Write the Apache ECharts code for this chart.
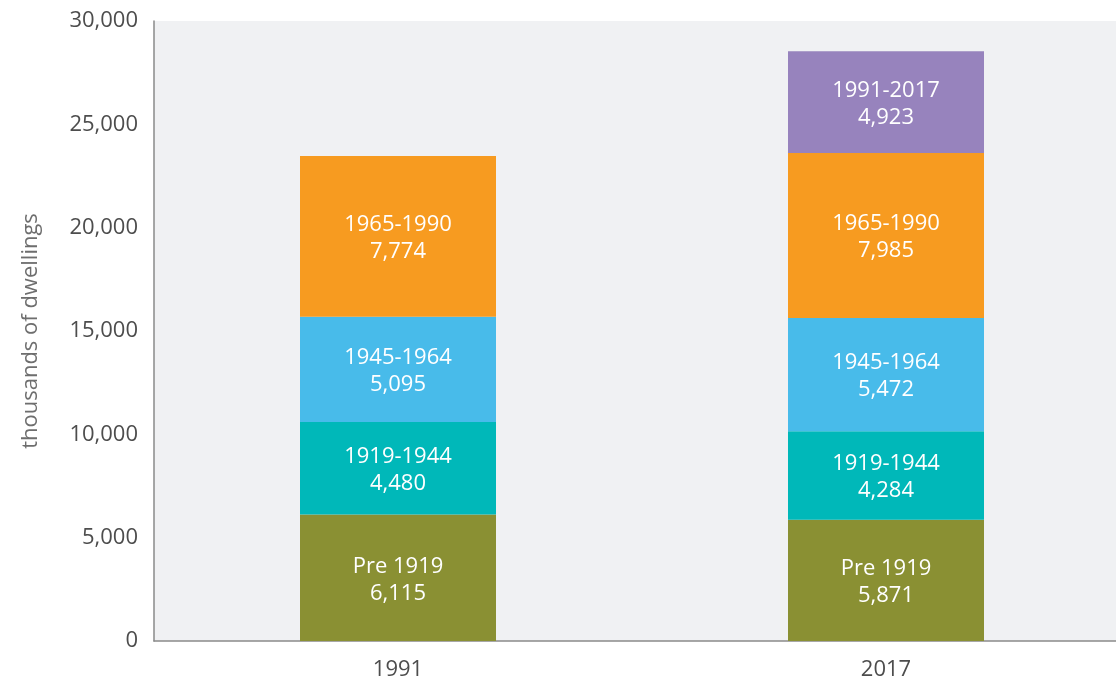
<!DOCTYPE html>
<html>
<head>
<meta charset="utf-8">
<script src="https://cdn.jsdelivr.net/npm/echarts@6/dist/echarts.min.js"></script>
<style>
  html, body { margin: 0; padding: 0; background: #fff; overflow: hidden; }
  /* plot runs past the right edge of the window, as in the source */
  #chart { width: 1130px; height: 686px; }
</style>
</head>
<body>
<div id="chart"></div>
<script>
  const years = ['1991', '2017'];
  const bandNames = ['Pre 1919', '1919-1944', '1945-1964', '1965-1990', '1991-2017'];
  const pre1919 = [6115, 5871];
  const y1919to1944 = [4480, 4284];
  const y1945to1964 = [5095, 5472];
  const y1965to1990 = [7774, 7985];
  const y1991to2017 = [null, 4923];
  const yTicks = [0, 5000, 10000, 15000, 20000, 25000, 30000];

  const bandData = [pre1919, y1919to1944, y1945to1964, y1965to1990, y1991to2017];
  const bandColors = ['#8a9033', '#00b8b9', '#48bbea', '#f79b20', '#9783bd'];

  const chart = echarts.init(document.getElementById('chart'));

  const fmt = v => v.toLocaleString('en-US');

  chart.setOption({
    animation: false,
    textStyle: { fontFamily: 'Open Sans' },
    grid: {
      left: 154,
      right: 0,
      top: 21,
      bottom: 45,
      show: true,
      backgroundColor: '#f0f1f3',
      borderWidth: 0,
    },
    xAxis: {
      type: 'category',
      data: years,
      axisLine: { lineStyle: { color: '#8a8a8a', width: 1.5 } },
      axisTick: { show: false },
      axisLabel: { color: '#4d4d4d', fontSize: 22, margin: 18 },
    },
    yAxis: {
      type: 'value',
      min: yTicks[0],
      max: yTicks[yTicks.length - 1],
      interval: 5000,
      name: 'thousands of dwellings',
      nameLocation: 'middle',
      nameGap: 112,
      nameTextStyle: { color: '#6e6e6e', fontSize: 22 },
      axisLine: { show: true, lineStyle: { color: '#8a8a8a', width: 1.5 } },
      axisTick: { show: false },
      splitLine: { show: false },
      axisLabel: { color: '#4d4d4d', fontSize: 22, margin: 16, formatter: v => fmt(v) },
    },
    series: bandNames.map((name, i) => ({
      name: name,
      type: 'bar',
      stack: 'total',
      barWidth: 196,
      itemStyle: { color: bandColors[i] },
      label: {
        show: true,
        position: 'inside',
        offset: [0, 2],
        color: '#fff',
        fontSize: 22,
        lineHeight: 27,
        formatter: p => p.value == null ? '' : name + '\n' + fmt(p.value),
      },
      data: bandData[i],
    })),
  });
</script>
</body>
</html>
